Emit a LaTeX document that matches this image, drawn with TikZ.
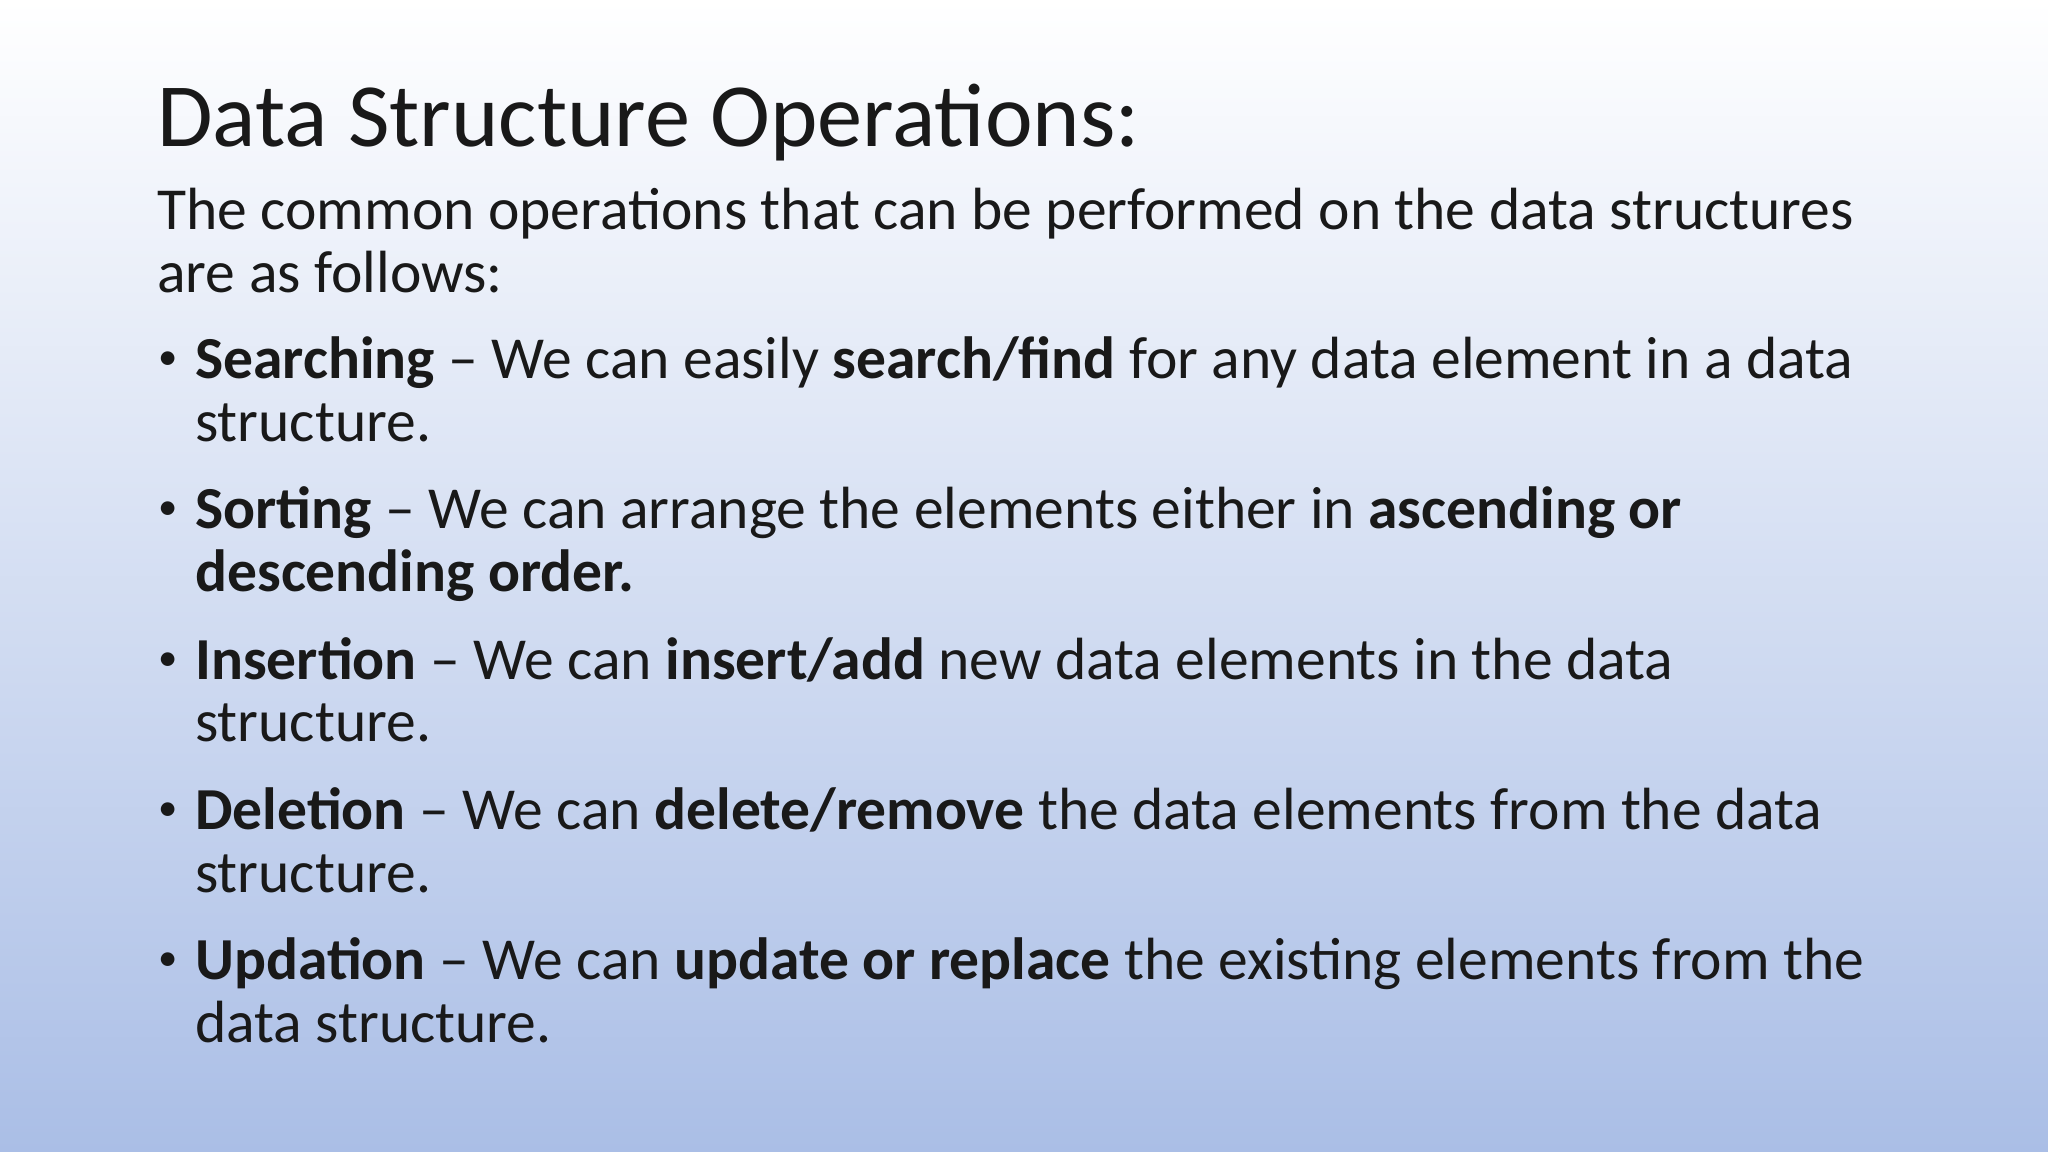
\documentclass[tikz,border=0pt]{standalone}
\usepackage{fontspec}
\setmainfont{Carlito}
\begin{document}
\begin{tikzpicture}[x=0.013061cm,y=-0.013061cm,
  txt/.style={anchor=base west,inner sep=0pt,font=\fontsize{16.95}{18}\selectfont,text=black!90},
  bul/.style={anchor=base west,inner sep=0pt,font=\fontsize{11}{12}\selectfont,text=black!90},
  ttl/.style={anchor=base west,inner sep=0pt,font=\fontsize{25.7}{30}\selectfont,text=black!90}]
\definecolor{topc}{RGB}{255,255,255}
\definecolor{botc}{RGB}{170,190,230}
\shade[top color=topc,bottom color=botc] (0,0) rectangle (1568,882);
\useasboundingbox (0,0) rectangle (1568,882);
\node[ttl] (title) at (120,112) {Data Structure Operations:};
\node[txt] (l1) at (120,176) {The common operations that can be performed on the data structures};
\node[txt] (l2) at (120,224) {are as follows:};
\foreach \y [count=\i] in {283,398,513,628,743} \node[bul] (b\i) at (121,\y) {•};
\node[txt] (s1) at (149,290) {\textbf{Searching} – We can easily \textbf{search/find} for any data element in a data};
\node[txt] (s2) at (149,338) {structure.};
\node[txt] (o1) at (149,405) {\textbf{Sorting} – We can arrange the elements either in \textbf{ascending or}};
\node[txt] (o2) at (149,453) {\textbf{descending order.}};
\node[txt] (i1) at (149,520) {\textbf{Insertion} – We can \textbf{insert/add} new data elements in the data};
\node[txt] (i2) at (149,568) {structure.};
\node[txt] (d1) at (149,635) {\textbf{Deletion} – We can \textbf{delete/remove} the data elements from the data};
\node[txt] (d2) at (149,683) {structure.};
\node[txt] (u1) at (149,750) {\textbf{Updation} – We can \textbf{update or replace} the existing elements from the};
\node[txt] (u2) at (149,798) {data structure.};
\end{tikzpicture}
\end{document}
